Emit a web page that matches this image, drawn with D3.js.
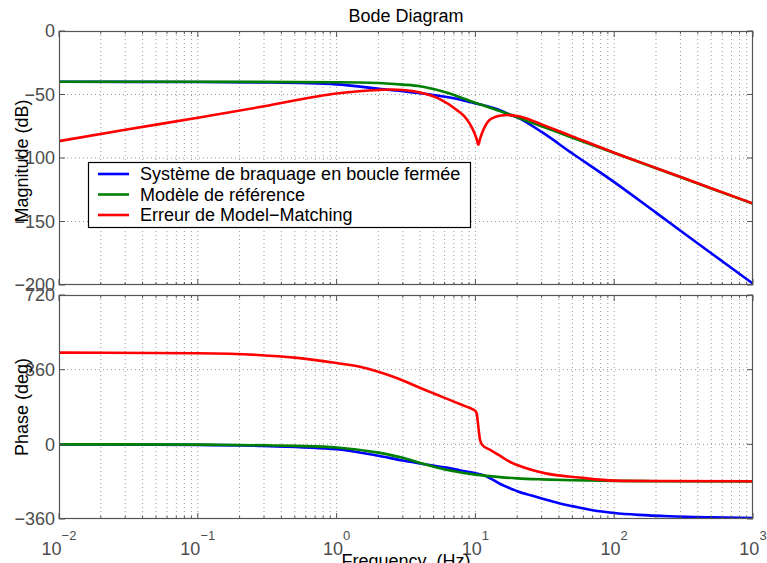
<!DOCTYPE html>
<html>
<head>
<meta charset="utf-8">
<script src="https://cdn.jsdelivr.net/npm/d3@7"></script>
<style>
  html, body { margin: 0; padding: 0; background: #fff; }
  svg { display: block; font-family: "Liberation Sans", Arial, Helvetica, sans-serif; }
</style>
</head>
<body>
<div id="chart"></div>
<script>
// ---------------- DATA ----------------
const seriesNames = ["Système de braquage en boucle fermée", "Modèle de référence", "Erreur de Model\u2212Matching"];
const seriesColors = ["#0000ff", "#008000", "#ff0000"];

// Magnitude (dB)
const magBlueF = [0.01, 0.1, 0.3, 1, 2, 4, 7, 10, 12, 15, 17, 20, 30, 50, 100, 200, 500, 1000];
const magBlueV = [-40, -40.1, -40.5, -42, -45.5, -49, -53, -57, -59, -62.3, -65, -68, -79.5, -96.5, -119, -143, -175, -199];

const magGreenF = [0.01, 0.1, 1, 2, 3, 4, 6, 10, 15, 20, 30, 50, 100, 200, 500, 1000];
const magGreenV = [-40, -40, -40.3, -41, -42.2, -43.5, -48, -56.5, -63, -68, -75, -84, -96, -108, -124, -136];

const magRedF = [0.01, 0.03, 0.1, 0.3, 1, 2, 2.5, 3, 4, 5.5, 7.3, 8.3, 9.1, 9.8, 10.2, 10.5, 10.8, 11.3, 11.8, 12.5, 14, 16, 17, 20, 25, 30, 50, 100, 200, 500, 1000];
const magRedV = [-86.7, -77.8, -68.3, -59.3, -49.2, -46.4, -46.1, -46.5, -48.5, -53.5, -62, -67, -73, -80, -85, -89.5, -85, -79, -74.5, -70.5, -67.5, -66.3, -66.2, -67, -70, -73.5, -83, -95.8, -107.8, -123.8, -135.8];

// Phase (deg)
const phBlueF = [0.01, 0.1, 0.3, 1, 2, 3, 4, 6, 8, 9.1, 10, 11.6, 12.8, 15, 18.7, 20, 25, 31, 40, 50, 70, 100, 150, 250, 500, 1000];
const phBlueV = [0, -2.5, -8, -24, -55, -78, -92, -111, -127, -133, -139, -150, -164, -190, -218, -226, -246, -264, -284, -298, -318, -331, -340, -347, -352, -355];

const phGreenF = [0.01, 0.1, 0.3, 0.5, 1, 2, 3, 4, 5, 7, 10, 15, 20, 30, 50, 100, 200, 1000];
const phGreenV = [0, -1.5, -4.5, -7.5, -15, -40, -65, -90, -108, -130, -146, -158, -164, -169, -173, -176, -178, -179.5];

const phRedF = [0.01, 0.1, 0.27, 0.5, 1, 1.5, 2, 2.5, 3, 3.9, 4.7, 6, 7.3, 8.6, 9.5, 10, 10.2, 10.4, 10.6, 10.8, 11.2, 12.8, 15, 18.7, 20, 32, 56, 100, 200, 1000];
const phRedV = [442, 439, 431, 418, 392, 373, 350, 328, 308, 275, 253, 224, 201, 182, 170, 160, 150, 110, 60, 22, -3, -27, -55, -92, -100, -140, -160, -175, -177, -178];

// Tick labels
const magTicks = [0, -50, -100, -150, -200];
const phaseTicks = [720, 360, 0, -360];
const decadeExps = [-2, -1, 0, 1, 2, 3];

const titleText = "Bode Diagram";
const magLabel = "Magnitude (dB)";
const phaseLabel = "Phase (deg)";
const freqLabel = "Frequency  (Hz)";

// ---------------- LAYOUT ----------------
const W = 767, H = 563;
const left = 59, right = 753;
const magTop = 31, magBottom = 285;
const phTop = 295, phBottom = 519;
const FS = 18;

const svg = d3.select("#chart").append("svg").attr("width", W).attr("height", H);

const x = d3.scaleLog().domain([0.01, 1000]).range([left, right]);
const yMag = d3.scaleLinear().domain([-200, 0]).range([magBottom, magTop]);
const yPh = d3.scaleLinear().domain([-360, 720]).range([phBottom, phTop]);

const minorFreqs = [];
for (let e = -2; e < 3; e++) for (let m = 1; m < 10; m++) minorFreqs.push(m * Math.pow(10, e));
minorFreqs.push(1000);

function panel(y, top, bottom, ticks, id) {
  const g = svg.append("g");
  g.selectAll(".vg").data(minorFreqs.filter(f => f > 0.01 && f < 1000)).enter().append("line")
    .attr("x1", d => x(d)).attr("x2", d => x(d)).attr("y1", top).attr("y2", bottom)
    .attr("stroke", "#9a9a9a").attr("stroke-width", 1).attr("stroke-dasharray", "1,3");
  g.selectAll(".hg").data(ticks.filter(t => y(t) > top + 1 && y(t) < bottom - 1)).enter().append("line")
    .attr("x1", left).attr("x2", right).attr("y1", d => y(d)).attr("y2", d => y(d))
    .attr("stroke", "#9a9a9a").attr("stroke-width", 1).attr("stroke-dasharray", "1,3");
  svg.append("clipPath").attr("id", id).append("rect")
    .attr("x", left).attr("y", top).attr("width", right - left).attr("height", bottom - top);
  return g;
}

function frame(y, top, bottom, ticks) {
  const g = svg.append("g");
  const tc = "#555";
  minorFreqs.forEach(f => {
    const isMaj = Math.abs(Math.log10(f) - Math.round(Math.log10(f))) < 1e-9;
    const L = isMaj ? 6 : 3;
    g.append("line").attr("x1", x(f)).attr("x2", x(f)).attr("y1", bottom).attr("y2", bottom - L).attr("stroke", tc);
    g.append("line").attr("x1", x(f)).attr("x2", x(f)).attr("y1", top).attr("y2", top + L).attr("stroke", tc);
  });
  ticks.forEach(t => {
    g.append("line").attr("x1", left).attr("x2", left + 6).attr("y1", y(t)).attr("y2", y(t)).attr("stroke", tc);
    g.append("line").attr("x1", right).attr("x2", right - 6).attr("y1", y(t)).attr("y2", y(t)).attr("stroke", tc);
  });
  g.append("rect").attr("x", left + 0.5).attr("y", top + 0.5)
    .attr("width", right - left - 1).attr("height", bottom - top - 1)
    .attr("fill", "none").attr("stroke", "#555").attr("stroke-width", 1.2);
  g.selectAll(".yl").data(ticks).enter().append("text")
    .attr("x", 55).attr("y", d => y(d)).attr("dy", "0.36em")
    .attr("text-anchor", "end").attr("font-size", FS).attr("fill", "#4d4d4d")
    .text(d => d < 0 ? "\u2212" + Math.abs(d) : String(d));
}

panel(yMag, magTop, magBottom, magTicks, "clipMag");
panel(yPh, phTop, phBottom, phaseTicks, "clipPh");

function drawLine(F, V, y, color, clip) {
  const pts = F.map((f, i) => [x(f), y(V[i])]);
  svg.append("path").datum(pts)
    .attr("d", d3.line().curve(d3.curveMonotoneX))
    .attr("fill", "none").attr("stroke", color).attr("stroke-width", 2.6)
    .attr("stroke-linejoin", "round")
    .attr("clip-path", "url(#" + clip + ")");
}

drawLine(magBlueF, magBlueV, yMag, seriesColors[0], "clipMag");
drawLine(magGreenF, magGreenV, yMag, seriesColors[1], "clipMag");
drawLine(magRedF, magRedV, yMag, seriesColors[2], "clipMag");

drawLine(phBlueF, phBlueV, yPh, seriesColors[0], "clipPh");
drawLine(phGreenF, phGreenV, yPh, seriesColors[1], "clipPh");
drawLine(phRedF, phRedV, yPh, seriesColors[2], "clipPh");

frame(yMag, magTop, magBottom, magTicks);
frame(yPh, phTop, phBottom, phaseTicks);

decadeExps.forEach(e => {
  const t = svg.append("text").attr("x", x(Math.pow(10, e))).attr("y", 555)
    .attr("text-anchor", "middle").attr("fill", "#4d4d4d").attr("font-size", FS);
  t.append("tspan").text("10");
  t.append("tspan").attr("dy", -15).attr("font-size", 13).text(e < 0 ? "\u2212" + Math.abs(e) : String(e));
});

svg.append("text").attr("x", (left + right) / 2).attr("y", 22).attr("text-anchor", "middle")
  .attr("font-size", FS).attr("fill", "#000").text(titleText);
svg.append("text").attr("transform", `translate(28,${(magTop + magBottom) / 2 + 3}) rotate(-90)`)
  .attr("text-anchor", "middle").attr("font-size", FS).attr("fill", "#000").text(magLabel);
svg.append("text").attr("transform", `translate(28,${(phTop + phBottom) / 2}) rotate(-90)`)
  .attr("text-anchor", "middle").attr("font-size", FS).attr("fill", "#000").text(phaseLabel);
svg.append("text").attr("x", (left + right) / 2).attr("y", 567).attr("text-anchor", "middle")
  .attr("font-size", FS).attr("fill", "#000").attr("xml:space", "preserve").text(freqLabel);

const lg = svg.append("g");
lg.append("rect").attr("x", 88.5).attr("y", 162.5).attr("width", 382).attr("height", 65)
  .attr("fill", "#fff").attr("stroke", "#000").attr("stroke-width", 1.2);
seriesNames.forEach((n, i) => {
  const yy = 174 + i * 20.5;
  lg.append("line").attr("x1", 98).attr("x2", 129).attr("y1", yy).attr("y2", yy)
    .attr("stroke", seriesColors[i]).attr("stroke-width", 2.6);
  lg.append("text").attr("x", 140).attr("y", yy).attr("dy", "0.36em")
    .attr("font-size", FS).attr("fill", "#000").text(n);
});
</script>
</body>
</html>
